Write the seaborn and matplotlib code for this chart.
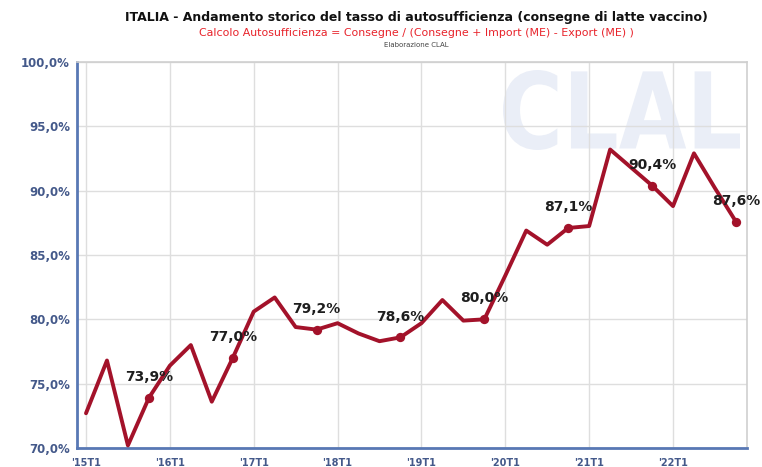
import matplotlib
matplotlib.use("Agg")
import matplotlib.pyplot as plt
import seaborn as sns
import pandas as pd
from matplotlib.textpath import TextPath
from matplotlib.patches import PathPatch
from matplotlib.font_manager import FontProperties
from matplotlib.transforms import Affine2D

# Quarterly self-sufficiency rate, '15T1 .. '22T4
quarters = [f"'{y}T{q}" for y in range(15, 23) for q in range(1, 5)]
rate = [72.7, 76.8, 70.2, 73.9, 76.4, 78.0, 73.6, 77.0,
        80.6, 81.7, 79.4, 79.2, 79.7, 78.9, 78.3, 78.6,
        79.7, 81.5, 79.9, 80.0, 83.4, 86.9, 85.8, 87.1,
        87.25, 93.2, 91.8, 90.4, 88.8, 92.9, 90.2, 87.6]
year_labels = ["'15T1", "'16T1", "'17T1", "'18T1", "'19T1", "'20T1", "'21T1", "'22T1"]
y_ticks = [70, 75, 80, 85, 90, 95, 100]

df = pd.DataFrame({"idx": range(len(rate)), "quarter": quarters, "rate": rate})
q4 = df[df["quarter"].str.endswith("T4")]

sns.set_style("white")
plt.rcParams["font.family"] = ["DejaVu Sans"]

fig = plt.figure(figsize=(7.62, 4.67), dpi=100)
ax = fig.add_axes([77 / 762, 1 - 448 / 467, (747 - 77) / 762, (448 - 62) / 467])

LINE = "#a3122a"
AXIS_BLUE = "#5878b4"
TICK_TXT = "#44598a"
GRID = "#dedede"

# faint CLAL watermark
tp = TextPath((0, 0), "CLAL", prop=FontProperties(family="DejaVu Sans", weight="bold"))
ext = tp.get_extents()
x0, x1 = 503 / 762, 740 / 762
y0, y1 = 1 - 150 / 467, 1 - 70 / 467
tr = (Affine2D().translate(-ext.x0, -ext.y0)
      .scale((x1 - x0) / ext.width, (y1 - y0) / ext.height)
      .translate(x0, y0)) + fig.transFigure
ax.add_patch(PathPatch(tp, transform=tr, facecolor="#eaeef7", edgecolor="none", zorder=0.1))

sns.lineplot(data=df, x="idx", y="rate", ax=ax, color=LINE, linewidth=2.8, zorder=3)
sns.scatterplot(data=q4, x="idx", y="rate", ax=ax, color=LINE, s=45,
                edgecolor=LINE, linewidth=0, zorder=4)

for _, r in q4.iterrows():
    ax.annotate(f"{r['rate']:.1f}%".replace(".", ","), (r["idx"], r["rate"]),
                xytext=(0, 15), textcoords="offset points", ha="center", va="center",
                fontsize=10, fontweight="bold", color="#1e1e1e", zorder=5)

step = (673 - 86) / 28
ax.set_xlim(-(86 - 77) / step, (747 - 86) / step)
ax.set_ylim(70, 100)
ax.set_xticks(range(0, 32, 4))
ax.set_xticklabels(year_labels, fontsize=7, fontweight="bold", color=TICK_TXT)
ax.set_yticks(y_ticks)
ax.set_yticklabels([f"{v:.1f}%".replace(".", ",") for v in y_ticks],
                   fontsize=8.5, fontweight="bold", color=TICK_TXT)
ax.tick_params(axis="y", length=0, pad=5)
ax.tick_params(axis="x", length=0, pad=7)
ax.set_xlabel("")
ax.set_ylabel("")
ax.set_axisbelow(True)
ax.grid(True, color=GRID, linewidth=1.0)

for s in ("left", "bottom"):
    ax.spines[s].set_color(AXIS_BLUE)
    ax.spines[s].set_linewidth(2.0)
for s in ("top", "right"):
    ax.spines[s].set_color("#cfcfcf")
    ax.spines[s].set_linewidth(1.2)

cx = 416 / 762
fig.text(cx, 1 - 18 / 467, "ITALIA - Andamento storico del tasso di autosufficienza (consegne di latte vaccino)",
         ha="center", va="center", fontsize=9.0, fontweight="bold", color="#111111")
fig.text(cx, 1 - 33 / 467, "Calcolo Autosufficienza = Consegne / (Consegne + Import (ME) - Export (ME) )",
         ha="center", va="center", fontsize=7.9, color="#e8232b")
fig.text(cx, 1 - 45 / 467, "Elaborazione CLAL", ha="center", va="center", fontsize=5, color="#444444")

fig.savefig("out.png", dpi=100)
